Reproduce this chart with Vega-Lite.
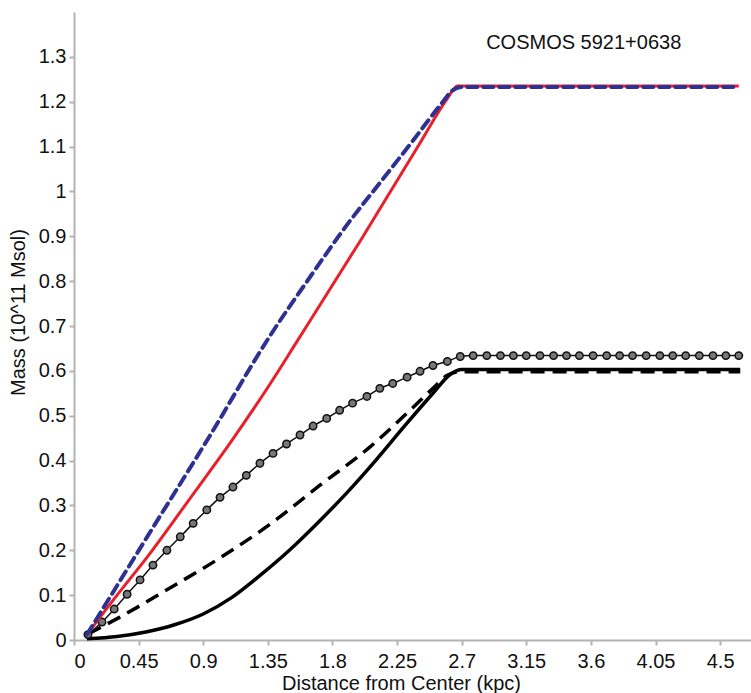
{
  "$schema": "https://vega.github.io/schema/vega-lite/v6.json",
  "width": 677,
  "height": 628,
  "autosize": "none",
  "padding": {"left": 74, "top": 12, "right": 0, "bottom": 53},
  "background": "white",
  "config": {
    "view": {"stroke": null},
    "font": "Liberation Sans",
    "axis": {"grid": false, "domainColor": "#b3b3b3", "domainWidth": 2, "tickColor": "#b3b3b3", "tickWidth": 2, "tickSize": 5, "labelFont": "Liberation Sans", "labelFontSize": 20, "labelColor": "#111", "titleFont": "Liberation Sans", "titleFontSize": 20, "titleFontWeight": "normal", "titleColor": "#111"}
  },
  "datasets": {
    "solid": [
      {"x": 0.09, "y": 0.003}, {"x": 0.3, "y": 0.008}, {"x": 0.5, "y": 0.018}, {"x": 0.7, "y": 0.034},
      {"x": 0.9, "y": 0.058}, {"x": 1.1, "y": 0.095}, {"x": 1.3, "y": 0.145}, {"x": 1.5, "y": 0.2},
      {"x": 1.7, "y": 0.262}, {"x": 1.9, "y": 0.328}, {"x": 2.1, "y": 0.4}, {"x": 2.3, "y": 0.476},
      {"x": 2.5, "y": 0.55}, {"x": 2.62, "y": 0.592}, {"x": 2.7, "y": 0.603}, {"x": 4.64, "y": 0.603}
    ],
    "dashed": [
      {"x": 0.1, "y": 0.014}, {"x": 0.32, "y": 0.051}, {"x": 0.668, "y": 0.116}, {"x": 1.017, "y": 0.183},
      {"x": 1.365, "y": 0.258}, {"x": 1.713, "y": 0.345}, {"x": 2.06, "y": 0.43}, {"x": 2.34, "y": 0.512},
      {"x": 2.5, "y": 0.561}, {"x": 2.6, "y": 0.59}, {"x": 2.68, "y": 0.598}, {"x": 4.64, "y": 0.598}
    ],
    "dotted": [
      {"x": 0.097, "y": 0.012}, {"x": 0.195, "y": 0.04}, {"x": 0.28, "y": 0.069}, {"x": 0.37, "y": 0.102},
      {"x": 0.46, "y": 0.134}, {"x": 0.55, "y": 0.167}, {"x": 0.647, "y": 0.2}, {"x": 0.74, "y": 0.23},
      {"x": 0.83, "y": 0.26}, {"x": 0.925, "y": 0.29}, {"x": 1.017, "y": 0.318}, {"x": 1.107, "y": 0.341},
      {"x": 1.2, "y": 0.367}, {"x": 1.295, "y": 0.394}, {"x": 1.386, "y": 0.416}, {"x": 1.48, "y": 0.437},
      {"x": 1.574, "y": 0.457}, {"x": 1.665, "y": 0.477}, {"x": 1.76, "y": 0.494}, {"x": 1.85, "y": 0.512},
      {"x": 1.94, "y": 0.528}, {"x": 2.04, "y": 0.543}, {"x": 2.13, "y": 0.561}, {"x": 2.22, "y": 0.572},
      {"x": 2.32, "y": 0.586}, {"x": 2.41, "y": 0.599}, {"x": 2.5, "y": 0.612}, {"x": 2.6, "y": 0.621},
      {"x": 2.69, "y": 0.632}, {"x": 2.78, "y": 0.634}, {"x": 2.875, "y": 0.634}, {"x": 2.97, "y": 0.634},
      {"x": 3.06, "y": 0.634}, {"x": 3.15, "y": 0.634}, {"x": 3.245, "y": 0.634}, {"x": 3.34, "y": 0.634},
      {"x": 3.43, "y": 0.634}, {"x": 3.52, "y": 0.634}, {"x": 3.615, "y": 0.634}, {"x": 3.71, "y": 0.634},
      {"x": 3.8, "y": 0.634}, {"x": 3.89, "y": 0.634}, {"x": 3.985, "y": 0.634}, {"x": 4.08, "y": 0.634},
      {"x": 4.17, "y": 0.634}, {"x": 4.26, "y": 0.634}, {"x": 4.355, "y": 0.634}, {"x": 4.45, "y": 0.634},
      {"x": 4.54, "y": 0.634}, {"x": 4.63, "y": 0.634}
    ],
    "red": [
      {"x": 0.09, "y": 0.012}, {"x": 0.3, "y": 0.1}, {"x": 0.515, "y": 0.187}, {"x": 0.8, "y": 0.312},
      {"x": 1.1, "y": 0.445}, {"x": 1.37, "y": 0.573}, {"x": 1.55, "y": 0.664}, {"x": 2.0, "y": 0.893},
      {"x": 2.41, "y": 1.108}, {"x": 2.6, "y": 1.207}, {"x": 2.67, "y": 1.235}, {"x": 4.63, "y": 1.235}
    ],
    "blue": [
      {"x": 0.09, "y": 0.012}, {"x": 0.5, "y": 0.225}, {"x": 0.94, "y": 0.452}, {"x": 1.365, "y": 0.678},
      {"x": 1.65, "y": 0.812}, {"x": 1.9, "y": 0.925}, {"x": 2.15, "y": 1.027}, {"x": 2.36, "y": 1.113},
      {"x": 2.55, "y": 1.192}, {"x": 2.64, "y": 1.226}, {"x": 2.7, "y": 1.233}, {"x": 4.63, "y": 1.233}
    ],
    "label": [{"x": 3.55, "y": 1.33, "text": "COSMOS 5921+0638"}]
  },
  "layer": [
    {
      "mark": {"type": "rule", "color": "#b3b3b3", "strokeWidth": 2},
      "encoding": {"x": {"datum": -0.39, "type": "quantitative"}, "x2": {"datum": 0}, "y": {"datum": 0, "type": "quantitative"}}
    },
    {
      "mark": {"type": "rule", "color": "#b3b3b3", "strokeWidth": 2},
      "encoding": {"x": {"datum": 0, "type": "quantitative"}, "y": {"datum": -0.105, "type": "quantitative"}, "y2": {"datum": 0}}
    },
    {
      "data": {"name": "solid"},
      "mark": {"type": "line", "color": "#000", "strokeWidth": 3.5, "strokeJoin": "round", "interpolate": "monotone"},
      "encoding": {
        "x": {"field": "x", "type": "quantitative", "scale": {"domain": [0, 4.715], "nice": false, "zero": false},
          "axis": {"values": [0, 0.45, 0.9, 1.35, 1.8, 2.25, 2.7, 3.15, 3.6, 4.05, 4.5], "format": ".3~g", "labelPadding": 6,
            "title": "Distance from Center (kpc)", "titleX": 327, "titleY": 43, "titleBaseline": "middle"}},
        "y": {"field": "y", "type": "quantitative", "scale": {"domain": [0, 1.4], "nice": false},
          "axis": {"values": [0, 0.1, 0.2, 0.3, 0.4, 0.5, 0.6, 0.7, 0.8, 0.9, 1, 1.1, 1.2, 1.3], "format": ".2~g", "labelPadding": 3,
            "title": "Mass (10^11 Msol)", "titleX": -56, "titleY": 300, "titleAngle": -90, "titleBaseline": "middle"}}
      }
    },
    {
      "data": {"name": "dashed"},
      "mark": {"type": "line", "color": "#000", "strokeWidth": 3.5, "strokeDash": [14, 8], "interpolate": "monotone"},
      "encoding": {"x": {"field": "x", "type": "quantitative"}, "y": {"field": "y", "type": "quantitative"}}
    },
    {
      "data": {"name": "dotted"},
      "mark": {"type": "line", "color": "#111", "strokeWidth": 1.5, "interpolate": "monotone", "point": {"filled": false, "fill": "#777", "stroke": "#111", "strokeWidth": 1.5, "size": 55}},
      "encoding": {"x": {"field": "x", "type": "quantitative"}, "y": {"field": "y", "type": "quantitative"}}
    },
    {
      "data": {"name": "red"},
      "mark": {"type": "line", "color": "#e8202a", "strokeWidth": 3, "interpolate": "monotone"},
      "encoding": {"x": {"field": "x", "type": "quantitative"}, "y": {"field": "y", "type": "quantitative"}}
    },
    {
      "data": {"name": "blue"},
      "mark": {"type": "line", "color": "#2e3192", "strokeWidth": 4, "strokeDash": [10, 6], "strokeCap": "round", "interpolate": "monotone"},
      "encoding": {"x": {"field": "x", "type": "quantitative"}, "y": {"field": "y", "type": "quantitative"}}
    },
    {
      "data": {"name": "label"},
      "mark": {"type": "text", "font": "Liberation Sans", "fontSize": 20, "color": "#111", "align": "center", "baseline": "middle"},
      "encoding": {"x": {"field": "x", "type": "quantitative"}, "y": {"field": "y", "type": "quantitative"}, "text": {"field": "text"}}
    }
  ]
}
